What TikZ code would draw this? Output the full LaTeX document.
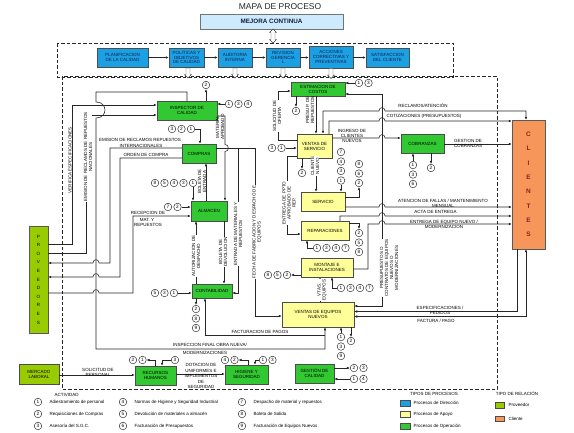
\documentclass[tikz,border=0pt]{standalone}
\usepackage{fontspec}
\setmainfont{Liberation Sans}
\usetikzlibrary{arrows.meta,shapes.arrows}
\definecolor{dirblue}{RGB}{28,160,228}
\definecolor{opgreen}{RGB}{50,200,50}
\definecolor{apyellow}{RGB}{255,255,153}
\definecolor{provgreen}{RGB}{153,204,0}
\definecolor{cliorange}{RGB}{247,150,90}
\definecolor{mejblue}{RGB}{205,235,252}
\definecolor{clitext}{RGB}{150,30,30}
\definecolor{navytext}{RGB}{20,30,70}
\newcommand{\fntbox}{\fontsize{4.5}{4.9}\selectfont}
\newcommand{\fntlab}{\fontsize{4.5}{5}\selectfont}
\newcommand{\fntdig}{\fontsize{4.7}{5}\selectfont}
\newcommand{\fntleg}{\fontsize{4.5}{5}\selectfont}
\tikzset{
  bx/.style={draw=black!70, line width=0.5pt, align=center, inner sep=0.5pt, font=\fntbox},
  dirbox/.style={bx, fill=dirblue, text=navytext},
  opbox/.style={bx, fill=opgreen, text=black},
  apbox/.style={bx, fill=apyellow, text=black},
  act/.style={circle, draw=black!85, fill=white, line width=0.45pt, inner sep=0pt, minimum size=7.6pt, font=\fntdig},
  lab/.style={font=\fntlab, inner sep=0.3pt, align=center, text=black},
  rlab/.style={lab, rotate=90},
  wlab/.style={rlab, fill=white},
  con/.style={draw=black!85, line width=0.55pt},
  arr/.style={con, -{Latex[length=3pt,width=2.6pt]}},
  darr/.style={con, {Latex[length=3pt,width=2.6pt]}-{Latex[length=3pt,width=2.6pt]}},
  dashframe/.style={draw=black!85, line width=0.8pt, dash pattern=on 3.5pt off 2pt},
  hollow/.style={single arrow, draw=black!75, fill=white, line width=0.4pt, inner sep=1.8pt, single arrow head extend=1.5pt, single arrow head indent=0pt, minimum height=10pt, shape border rotate=270},
  leg/.style={font=\fntleg, anchor=west, inner sep=0.5pt},
  swatch/.style={draw=black!70, line width=0.4pt, inner sep=0pt, minimum width=10pt, minimum height=5.5pt},
}
\begin{document}
\begin{tikzpicture}[x=1pt,y=-1pt]
\useasboundingbox (0,0) rectangle (574,432);
% ---------- title and frames
\node[font=\fontsize{8.5}{9}\selectfont, text=black!85] (title) at (280,7) {MAPA DE PROCESO};
\node[draw=black!55, fill=mejblue, line width=0.5pt, minimum width=143pt, minimum height=15pt, inner sep=0pt, font=\fontsize{6.3}{7}\selectfont\bfseries, text=navytext] (mejora) at (271.5,21.5) {MEJORA CONTINUA};
\draw[dashframe] (62,76) rectangle (497,389);
\draw[dashframe] (57,43) rectangle (453,77);
% ---------- direction processes
\node[dirbox, minimum width=51pt, minimum height=19pt] (plan) at (122.5,57.5) {PLANIFICACION\\DE LA CALIDAD};
\node[dirbox, minimum width=35pt, minimum height=19pt] (pol) at (186.5,57.5) {POLITICAS Y\\OBJETIVOS\\DE CALIDAD};
\node[dirbox, minimum width=34pt, minimum height=19pt] (aud) at (235,57.5) {AUDITORIA\\INTERNA};
\node[dirbox, minimum width=34pt, minimum height=19pt] (rev) at (283,57.5) {REVISION\\GERENCIA\\L};
\node[dirbox, minimum width=44pt, minimum height=22pt] (acc) at (331,57) {ACCIONES\\CORRECTIVAS Y\\PREVENTIVAS};
\node[dirbox, minimum width=43pt, minimum height=19pt] (sat) at (387.5,57.5) {SATISFACCION\\DEL CLIENTE};
\draw[arr] (plan) -- (pol);
\draw[arr] (pol) -- (aud);
\draw[arr] (aud) -- (rev);
\draw[arr] (rev.east) -- (acc.west |- rev.east);
\draw[arr] (acc.east |- sat.west) -- (sat.west);
\node[double arrow, draw=black!75, fill=white, line width=0.4pt, inner sep=1.8pt, double arrow head extend=1.5pt, double arrow head indent=0pt, minimum height=14pt, shape border rotate=90] (mejarrow) at (273,36) {};
\node[hollow] (hpol) at (188,72) {};
\node[hollow] (haud) at (235,72) {};
\node[hollow] (hrev) at (283,72) {};
\node[hollow] (hacc) at (331,72.5) {};
% ---------- external parties
\node[draw=black!65, fill=provgreen, minimum width=19pt, minimum height=107pt, inner sep=0pt, align=center, font=\fontsize{4.6}{8.6}\selectfont] (prov) at (38.5,279.5) {P\\R\\O\\V\\E\\E\\D\\O\\R\\E\\S};
\node[draw=black!65, fill=cliorange, minimum width=33pt, minimum height=129pt, inner sep=0pt, align=center, font=\fontsize{6.5}{14.3}\selectfont\bfseries, text=clitext] (cli) at (528.5,184.5) {C\\L\\I\\E\\N\\T\\E\\S};
\node[bx, fill=provgreen, minimum width=40pt, minimum height=20pt] (merc) at (39,374) {MERCADO\\LABORAL};
% ---------- operation processes
\node[opbox, minimum width=60pt, minimum height=19pt] (insp) at (187,110.5) {INSPECTOR DE\\CALIDAD};
\node[opbox, minimum width=34pt, minimum height=19pt] (comp) at (199,153.5) {COMPRAS};
\node[opbox, minimum width=36pt, minimum height=20pt] (alm) at (209,211) {ALMACEN};
\node[opbox, minimum width=40pt, minimum height=14pt] (cont) at (212,291) {CONTABILIDAD};
\node[opbox, minimum width=54pt, minimum height=14pt] (est) at (318,89) {ESTIMACION DE\\COSTOS};
\node[opbox, minimum width=43pt, minimum height=19pt] (cob) at (422.5,143.5) {COBRANZAS};
\node[opbox, minimum width=41pt, minimum height=19pt] (rrhh) at (155.5,375.5) {RECURSOS\\HUMANOS};
\node[opbox, minimum width=43pt, minimum height=19pt] (hig) at (246.5,374.5) {HIGIENE Y\\SEGURIDAD};
\node[opbox, minimum width=39pt, minimum height=19pt] (gcal) at (314.5,373.5) {GESTIÓN DE\\CALIDAD};
% ---------- support processes
\node[apbox, minimum width=35pt, minimum height=24pt] (vs) at (314.5,146) {VENTAS DE\\SERVICIO};
\node[apbox, minimum width=44pt, minimum height=19pt] (serv) at (323,201.5) {SERVICIO};
\node[apbox, minimum width=48pt, minimum height=19pt] (rep) at (325,230.5) {REPARACIONES};
\node[apbox, minimum width=52pt, minimum height=19pt] (mont) at (327,267.5) {MONTAJE E\\INSTALACIONES};
\node[apbox, minimum width=72pt, minimum height=25pt] (ve) at (318,314.5) {VENTAS DE EQUIPOS\\NUEVOS};
% ---------- activity circles
\node[act] (ia2) at (206,85) {2};
\node[act] (ib1) at (229,104) {1};
\node[act] (ib3) at (238.5,104) {3};
\node[act] (ib4) at (248,104) {4};
\node[act] (ca3) at (172,129) {3};
\node[act] (ca2) at (181.5,129) {2};
\node[act] (ca1) at (191,129) {1};
\node[act] (aa8) at (155,183) {8};
\node[act] (aa5) at (164.5,183) {5};
\node[act] (aa4) at (174,183) {4};
\node[act] (aa3) at (183.5,183) {3};
\node[act] (aa1) at (193,183) {1};
\node[act] (ab7) at (168,207) {7};
\node[act] (ab2) at (177.5,207) {2};
\node[act] (ta5) at (155,293) {5};
\node[act] (ta3) at (164.5,293) {3};
\node[act] (ta1) at (174,293) {1};
\node[act] (tb2) at (196,309) {2};
\node[act] (tb8) at (196,318.5) {8};
\node[act] (tb9) at (196,328) {9};
\node[act] (ea2) at (296,111) {2};
\node[act] (eb1) at (359,83) {1};
\node[act] (eb3) at (368.5,83) {3};
\node[act] (ka1) at (413,165) {1};
\node[act] (ka3) at (413,174.5) {3};
\node[act] (ka6) at (413,184) {6};
\node[act] (kb2) at (431,168) {2};
\node[act] (va3) at (272,148) {3};
\node[act] (va1) at (281.5,148) {1};
\node[act] (vb2) at (302,173) {2};
\node[act] (sa7) at (341,152) {7};
\node[act] (sa4) at (341,161.5) {4};
\node[act] (sa3) at (341,171) {3};
\node[act] (sa1) at (341,180.5) {1};
\node[act] (sb8) at (359,164) {8};
\node[act] (sb6) at (359,173.5) {6};
\node[act] (sb2) at (359,183) {2};
\node[act] (ra2) at (359,233) {2};
\node[act] (ra5) at (359,242.5) {5};
\node[act] (ra8) at (359,252) {8};
\node[act] (rb1) at (317,248) {1};
\node[act] (rb3) at (326.5,248) {3};
\node[act] (rb4) at (336,248) {4};
\node[act] (rb7) at (345.5,248) {7};
\node[act] (ma8) at (268,275) {8};
\node[act] (ma5) at (277.5,275) {5};
\node[act] (ma2) at (287,275) {2};
\node[act] (mb1) at (341,288) {1};
\node[act] (mb3) at (350.5,288) {3};
\node[act] (mb4) at (360,288) {4};
\node[act] (mb7) at (369.5,288) {7};
\node[act] (qa1) at (341,337) {1};
\node[act] (qa3) at (341,346.5) {3};
\node[act] (qa9) at (341,356) {9};
\node[act] (qb2) at (351,341) {2};
\node[act] (hb2) at (133,360) {2};
\node[act] (hb1) at (142.5,360) {1};
\node[act] (hc3) at (175,360) {3};
\node[act] (gb4) at (225,360) {4};
\node[act] (gb2) at (234.5,360) {2};
\node[act] (gc1) at (263,360) {1};
\node[act] (gc3) at (272.5,360) {3};
\node[act] (dd2) at (354,368) {2};
\node[act] (dd3) at (363.5,368) {3};
\node[act] (de1) at (354,379) {1};
\node[act] (de4) at (363.5,379) {4};
% ---------- circle connectors
\draw[arr] (insp.north -| ia2) -- (ia2);
\draw[arr] (ib1) -- (insp.east |- ib1);
\draw[arr] (ca1) -| ([xshift=1pt]comp.north);
\draw[arr] (aa1) -- (alm.north -| aa1);
\draw[arr] (ab2) -- (alm.west |- ab2);
\draw[arr] (ta1) -- (cont.west |- ta1);
\draw[arr] (cont.south -| tb2) -- (tb2);
\draw[arr] (est.south -| ea2) -- (ea2);
\draw[arr] (eb1) -- (est.east |- eb1);
\draw[arr] (ka1) -- (cob.south -| ka1);
\draw[arr] (cob.south -| kb2) -- (kb2);
\draw[arr] (va1) -- (vs.west |- va1);
\draw[arr] (vs.south -| vb2) -- (vb2);
\draw[arr] (sa1) -- (serv.north -| sa1);
\draw[arr] (serv.east |- 0,197) -| (sb2);
\draw[arr] (rep.east |- 0,223) -| (ra2);
\draw[arr] (rb1) -| (rep.south -| 307,0);
\draw[arr] (mont.west |- ma2) -- (ma2);
\draw[arr] (mb1) -| (mont.south -| 332,0);
\draw[arr] (qa1) -- (ve.south -| qa1);
\draw[arr] (ve.south -| qb2) -- (qb2);
\draw[arr] (rrhh.north -| 155,0) |- (hb1);
\draw[arr] (hc3) -| (rrhh.north -| 162,0);
\draw[arr] (hig.north -| 248,0) |- (gb2);
\draw[arr] (gc1) -| (hig.north -| 255,0);
\draw[arr] (gcal.east |- dd2) -- (dd2);
\draw[arr] (de1) -- (gcal.east |- de1);
% ---------- flows: left part
\draw[arr] (prov.east |- 0,244) -- (72,244) -- (72,105) -- (insp.west |- 0,105);
\draw[arr] (prov.east |- 0,253) -- (86,253) -- (86,115) -- (insp.west |- 0,115);
\draw[arr] (insp.north) -- (187,92) -- (96,92) -- (96,102) .. controls (108,102) and (108,118) .. (96,118) -- (96,349) -- (325,349) -- (ve.south -| 325,0);
\draw[arr] (comp.west |- 0,148) -- (110,148) -- (110,263) -- (99,263) .. controls (99,258.5) and (93,258.5) .. (93,263) -- (prov.east |- 0,263);
\draw[arr] (comp.west |- 0,158) -- (120,158) -- (120,277) -- (99,277) .. controls (99,272.5) and (93,272.5) .. (93,277) -- (prov.east |- 0,277);
\draw[arr] (prov.east |- 0,293) -- (93,293) .. controls (93,288.5) and (99,288.5) .. (99,293) -- (133,293) -- (133,216) -- (alm.west |- 0,216);
\draw[arr] (insp.east |- 0,116) -- (225,116) -- (225,144.5) .. controls (229.5,144.5) and (229.5,151.5) .. (225,151.5) -- (alm.north -| 225,0);
\draw[arr] (alm.north -| 206,0) -- (comp.south -| 206,0);
\coordinate (jent) at (238,148);
\draw[arr] (comp.east |- 0,148) -- (255,148) -- (255,316) -- (ve.west |- 0,316);
\draw[arr] (jent) -- (238,293) -- (cont.east |- 0,293);
\draw[arr] (cont.north -| 196,0) -- (alm.south -| 196,0);
\draw[arr] (alm.south -| 224,0) -- (cont.north -| 224,0);
\coordinate (jve) at (325,335);
\draw[arr] (jve) -- (205,335) -- (cont.south -| 205,0);
\draw[arr] (merc.east |- 0,375) -- (rrhh.west |- 0,375);
\draw[arr] (rrhh.east |- 0,374) -- (hig.west |- 0,374);
% ---------- flows: right part
\draw[arr] (vs.west |- 0,140) -- (278,140) -- (278,91) -- (est.west |- 0,91);
\draw[arr] (est.south -| 316,0) -- (vs.north -| 316,0);
\draw[darr] (est.east |- 0,94) -- (382,94) -- (382,306) -- (ve.east |- 0,306);
\draw[arr] (vs.south -| 316,0) -- (serv.north -| 316,0);
\draw[arr] (vs.west |- 0,156) -- (287,156) -- (287,234) -- (rep.west |- 0,234);
\draw[darr] (vs.north -| 323,0) -- (323,111) -- (379,111) .. controls (379,106.5) and (385,106.5) .. (385,111) -- (526,111) -- (cli.north -| 526,0);
\draw[arr] (vs.north -| 329,0) -- (329,121) -- (379,121) .. controls (379,116.5) and (385,116.5) .. (385,121) -- (cli.west |- 0,121);
\draw[arr] (vs.east |- 0,138) -- (379,138) .. controls (379,133.5) and (385,133.5) .. (385,138) -- (cob.west |- 0,138);
\draw[arr] (cob.east |- 0,144) -- (cli.west |- 0,144);
\draw[arr] (serv.east |- 0,207) -- (379,207) .. controls (379,202.5) and (385,202.5) .. (385,207) -- (cli.west |- 0,207);
\draw[arr] (rep.north -| 340,0) -- (340,216) -- (379,216) .. controls (379,211.5) and (385,211.5) .. (385,216) -- (cli.west |- 0,216);
\draw[arr] (mont.east |- 0,269) -- (368,269) -- (368,224) -- (379,224) .. controls (379,219.5) and (385,219.5) .. (385,224) -- (cli.west |- 0,224);
\draw[arr] (ve.north -| 320,0) -- (mont.south -| 320,0);
\draw[arr] (cli.south -| 517,0) -- (517,311.5) -- (ve.east |- 0,311.5);
\draw[darr] (ve.east |- 0,316.5) -- (526,316.5) -- (cli.south -| 526,0);
% ---------- labels
\node[wlab] (lver) at (70,160) {VERIFICA ESPECIFICACIONES};
\node[wlab] (lemn) at (88,157) {EMISION DE RECLAMOS DE REPUESTOS\\NACIONALES};
\node[lab] (lemi1) at (140,140) {EMISION DE RECLAMOS REPUESTOS};
\node[lab] (lemi2) at (141,146) {INTERNACIONALES};
\node[lab] (lord) at (146,155) {ORDEN DE COMPRA};
\node[rlab] (lbole) at (202,181.5) {BOLETA DE\\ENTRADA};
\node[rlab] (lmat) at (220,127) {MATERIAL\\APROBADO};
\node[wlab] (lfecha) at (257,232) {FECHA DE FABRICACION Y DESPACHO DE\\EQUIPOS};
\node[wlab] (lentm) at (238,234) {ENTRADA DE MATERIALES Y\\REPUESTOS};
\node[lab] (lrec1) at (148,212.5) {RECEPCION DE};
\node[lab] (lrec2) at (147,219.5) {MAT. Y};
\node[lab] (lrec3) at (148,225) {REPUESTOS};
\node[wlab] (laut) at (196,256) {AUTORIZACION DE\\DESPACHO};
\node[wlab] (lbold) at (223,252) {BOLETA DE\\DEVOLUCION};
\node[lab] (lfac) at (260,331.5) {FACTURACION DE PAGOS};
\node[lab] (lins1) at (210,345.3) {INSPECCION FINAL OBRA NUEVA/};
\node[lab] (lins2) at (205,352.5) {MODERNIZACIONES};
\node[wlab] (lsol) at (277,116) {SOLICITUD DE\\OFERTA};
\node[rlab] (lpre) at (310,110) {PRESUP. DE\\REPUESTOS};
\node[wlab] (lpres) at (389,268) {PRESUPUESTOS O\\CONTRATOS DE EQUIPOS\\NUEVOS O\\MODERNIZACIONES};
\node[wlab] (lcli) at (315,166) {CLIENTE\\NUEVO};
\node[wlab] (lppto) at (289,203) {ENTREGA DE PPTO\\APROBADO DE\\REP.};
\node[lab] (lrecl) at (423,106) {RECLAMOS/ATENCIÓN};
\node[lab] (lcot) at (424,116.5) {COTIZACIONES (PRESUPUESTOS)};
\node[lab] (ling) at (352,136) {INGRESO DE\\CLIENTES\\NUEVOS};
\node[lab] (lges) at (468,143) {GESTION DE\\COBRANZAS};
\node[lab] (late) at (443,203) {ATENCION DE FALLAS / MANTENIMIENTO\\MENSUAL};
\node[lab] (lacta) at (435.5,211.8) {ACTA DE ENTREGA};
\node[lab] (lentr) at (444,224) {ENTREGA DE EQUIPO NUEVO /\\MODERNIZACION};
\node[lab] (lesp) at (440,310) {ESPECIFICACIONES /\\PEDIDOS};
\node[lab] (lfacp) at (436,320.5) {FACTURA / PAGO};
\node[lab] (lsolp) at (98,372.5) {SOLICITUD DE\\PERSONAL};
\node[lab, font=\fontsize{4.5}{5.5}\selectfont] (ldot) at (201,376) {DOTACION DE\\UNIFORMES E\\IMPLEMENTOS\\DE\\SEGURIDAD};
\node[wlab] (lvtas) at (322,290) {VTAS.\\EQUIPOS};
% ---------- legend
\node[leg] (lact) at (54,395) {ACTIVIDAD};
\node[act] (g1) at (38,402) {1};
\node[act] (g2) at (38,414) {2};
\node[act] (g3) at (38,426) {3};
\node[act] (g4) at (123,402) {4};
\node[act] (g5) at (123,414) {5};
\node[act] (g6) at (123,426) {6};
\node[act] (g7) at (242,402) {7};
\node[act] (g8) at (242,414) {8};
\node[act] (g9) at (242,426) {9};
\node[leg] (t1) at (49,402) {Adiestramiento de personal};
\node[leg] (t2) at (49,414) {Requisiciones de Compras};
\node[leg] (t3) at (49,426) {Asesoría del S.G.C.};
\node[leg] (t4) at (134,402) {Normas de Higiene y Seguridad Industrial};
\node[leg] (t5) at (134,414) {Devolución de materiales a almacén};
\node[leg] (t6) at (134,426) {Facturación de Presupuestos};
\node[leg] (t7) at (253,402) {Despacho de material y repuestos};
\node[leg] (t8) at (253,414) {Boleta de Salida};
\node[leg] (t9) at (253,426) {Facturación de Equipos Nuevos};
\node[leg, anchor=center] (ltip) at (434,394) {TIPOS DE PROCESOS};
\node[swatch, fill=dirblue] (swd) at (405,403.3) {};
\node[swatch, fill=apyellow] (swa) at (405,414.2) {};
\node[swatch, fill=opgreen] (swo) at (405,426) {};
\node[leg] (tswd) at (413,403.3) {Procesos de Dirección};
\node[leg] (tswa) at (413,414.2) {Procesos de Apoyo};
\node[leg] (tswo) at (413,426) {Procesos de Operación};
\node[leg, anchor=center] (lrel) at (517,394) {TIPO DE RELACIÓN};
\node[swatch, fill=provgreen, minimum width=9pt] (swp) at (499.5,405) {};
\node[swatch, fill=cliorange, minimum width=9pt] (swc) at (499.5,418.5) {};
\node[leg] (tswp) at (508,405) {Proveedor};
\node[leg] (tswc) at (508,418.5) {Cliente};
\end{tikzpicture}
\end{document}
